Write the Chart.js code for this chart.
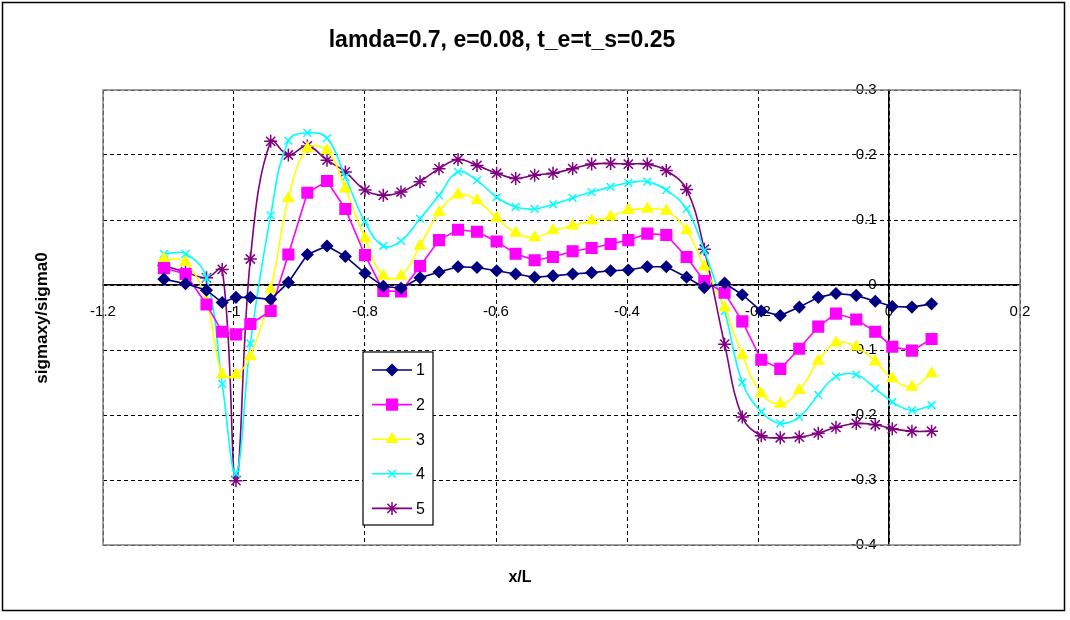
<!DOCTYPE html>
<html lang="en">
<head>
<meta charset="UTF-8">
<title>lamda=0.7, e=0.08, t_e=t_s=0.25</title>
<script src="https://cdn.jsdelivr.net/npm/chart.js"></script>
<style>
  body { margin: 0; background: #ffffff; }
  #wrap { width: 1070px; height: 620px; }
</style>
</head>
<body>
<div id="wrap"><canvas id="sigmaChart" width="1070" height="620"></canvas></div>
<script>
// x/L of the computed points (shared by all series)
const xPos = [-1.107, -1.074, -1.042, -1.018, -0.997, -0.975, -0.944, -0.917, -0.888, -0.858, -0.830, -0.800,
  -0.772, -0.745, -0.716, -0.687, -0.658, -0.629, -0.599, -0.570, -0.541, -0.513, -0.483, -0.454, -0.425,
  -0.398, -0.369, -0.340, -0.309, -0.282, -0.251, -0.224, -0.195, -0.166, -0.137, -0.108, -0.081, -0.050,
  -0.021, 0.005, 0.035, 0.065];

// sigmaxy/sigma0 for each curve
const series1 = [0.009, 0.002, -0.008, -0.027, -0.019, -0.019, -0.022, 0.004, 0.047, 0.060, 0.044, 0.018,
  -0.002, -0.005, 0.011, 0.020, 0.028, 0.027, 0.022, 0.017, 0.012, 0.014, 0.017, 0.019, 0.022, 0.023, 0.028,
  0.028, 0.012, -0.004, 0.003, -0.015, -0.040, -0.047, -0.034, -0.019, -0.013, -0.016, -0.025, -0.033, -0.034, -0.029];
const series2 = [0.026, 0.017, -0.030, -0.072, -0.076, -0.060, -0.040, 0.047, 0.142, 0.160, 0.117, 0.046,
  -0.009, -0.010, 0.029, 0.069, 0.085, 0.082, 0.067, 0.048, 0.038, 0.043, 0.052, 0.057, 0.063, 0.069, 0.079,
  0.077, 0.043, 0.006, -0.012, -0.056, -0.115, -0.129, -0.098, -0.064, -0.044, -0.053, -0.072, -0.095, -0.101, -0.083];
const series3 = [0.040, 0.035, -0.025, -0.138, -0.138, -0.110, -0.007, 0.133, 0.210, 0.207, 0.148, 0.071,
  0.014, 0.014, 0.060, 0.112, 0.139, 0.130, 0.103, 0.080, 0.073, 0.084, 0.091, 0.099, 0.105, 0.115, 0.117,
  0.114, 0.084, 0.028, -0.035, -0.108, -0.167, -0.183, -0.162, -0.117, -0.089, -0.095, -0.118, -0.144, -0.157, -0.136];
const series4 = [0.048, 0.048, 0.011, -0.152, -0.290, -0.090, 0.107, 0.222, 0.234, 0.226, 0.166, 0.097,
  0.060, 0.068, 0.102, 0.138, 0.174, 0.161, 0.135, 0.120, 0.117, 0.124, 0.134, 0.143, 0.151, 0.157, 0.159,
  0.146, 0.117, 0.053, -0.040, -0.150, -0.195, -0.213, -0.203, -0.169, -0.141, -0.138, -0.159, -0.180, -0.193, -0.185];
const series5 = [0.030, 0.020, 0.011, 0.024, -0.301, 0.040, 0.221, 0.200, 0.214, 0.192, 0.174, 0.146,
  0.138, 0.143, 0.159, 0.179, 0.193, 0.184, 0.172, 0.164, 0.169, 0.172, 0.179, 0.186, 0.187, 0.186, 0.186,
  0.176, 0.147, 0.055, -0.091, -0.203, -0.232, -0.235, -0.234, -0.228, -0.219, -0.213, -0.215, -0.221, -0.225, -0.225];

const seriesNames = ['1', '2', '3', '4', '5'];
const chartTitle = 'lamda=0.7, e=0.08, t_e=t_s=0.25';
const xTitle = 'x/L';
const yTitle = 'sigmaxy/sigma0';

const FONT = "'Liberation Sans', Arial, sans-serif";

function toPoints(vals) {
    return xPos.map((x, i) => ({ x: x, y: vals[i] }));
}

// Excel style numbers: 0, -1, 0.2 (no trailing zeros)
function tickText(v) {
    return String(Number(v.toFixed(2)));
}

function makeSet(label, vals, color, style, radius, tension) {
    return {
        label: label,
        data: toPoints(vals),
        borderColor: color,
        backgroundColor: color,
        pointBackgroundColor: color,
        pointBorderColor: color,
        pointStyle: style,
        pointRadius: radius,
        pointBorderWidth: 1.5,
        borderWidth: 1.6,
        tension: tension,
        fill: false
    };
}

// frame, plot border, titles and the boxed legend in the Excel style
const excelLook = {
    id: 'excelLook',
    beforeDraw(chart) {
        const ctx = chart.ctx;
        ctx.save();
        ctx.fillStyle = '#ffffff';
        ctx.fillRect(0, 0, chart.width, chart.height);
        ctx.strokeStyle = '#000000';
        ctx.lineWidth = 1.5;
        ctx.strokeRect(2.5, 2.5, 1062, 608);
        ctx.restore();
    },
    beforeDatasetsDraw(chart) {
        const a = chart.chartArea;
        const ctx = chart.ctx;
        ctx.save();
        ctx.strokeStyle = '#808080';
        ctx.lineWidth = 1.5;
        ctx.strokeRect(a.left, a.top, a.right - a.left, a.bottom - a.top);
        ctx.restore();
    },
    afterDraw(chart) {
        const ctx = chart.ctx;
        ctx.save();
        ctx.fillStyle = '#000000';
        ctx.textAlign = 'center';
        ctx.textBaseline = 'middle';
        ctx.font = 'bold 23px ' + FONT;
        ctx.fillText(chartTitle, 502, 41);
        ctx.font = 'bold 16px ' + FONT;
        ctx.fillText(xTitle, 520, 578);
        ctx.translate(42, 318);
        ctx.rotate(-Math.PI / 2);
        ctx.font = 'bold 17px ' + FONT;
        ctx.fillText(yTitle, 0, 0);
        ctx.restore();

        // legend box
        ctx.save();
        ctx.fillStyle = '#ffffff';
        ctx.fillRect(363, 352, 70, 173);
        ctx.strokeStyle = '#000000';
        ctx.lineWidth = 1.2;
        ctx.strokeRect(363, 352, 70, 173);
        chart.data.datasets.forEach((ds, i) => {
            const y = 370 + i * 34.6;
            ctx.strokeStyle = ds.borderColor;
            ctx.lineWidth = ds.borderWidth;
            ctx.beginPath();
            ctx.moveTo(372, y);
            ctx.lineTo(412, y);
            ctx.stroke();
            ctx.fillStyle = ds.pointBackgroundColor;
            ctx.strokeStyle = ds.pointBorderColor;
            ctx.lineWidth = ds.pointBorderWidth;
            Chart.helpers.drawPoint(ctx, {
                pointStyle: ds.pointStyle, radius: ds.pointRadius, rotation: 0, borderWidth: ds.pointBorderWidth
            }, 392, y);
            ctx.fillStyle = '#000000';
            ctx.font = '16px ' + FONT;
            ctx.textAlign = 'left';
            ctx.textBaseline = 'middle';
            ctx.fillText(ds.label, 416, y + 1);
        });
        ctx.restore();
    }
};

const ctx = document.getElementById('sigmaChart').getContext('2d');
const sigmaChart = new Chart(ctx, {
    type: 'line',
    data: {
        datasets: [
            makeSet(seriesNames[0], series1, '#000080', 'rectRot', 5.5, 0),
            makeSet(seriesNames[1], series2, '#ff00ff', 'rect', 7.5, 0),
            makeSet(seriesNames[2], series3, '#ffff00', 'triangle', 6, 0.4),
            makeSet(seriesNames[3], series4, '#00ffff', 'crossRot', 5.5, 0.4),
            makeSet(seriesNames[4], series5, '#800080', 'star', 6.5, 0.4)
        ]
    },
    options: {
        responsive: false,
        animation: false,
        devicePixelRatio: 1,
        layout: { padding: { left: 103, top: 90, right: 50, bottom: 75 } },
        plugins: {
            legend: { display: false },
            title: { display: false },
            tooltip: { enabled: false }
        },
        scales: {
            x: {
                type: 'linear',
                min: -1.2,
                max: 0.2,
                position: { y: 0 },
                ticks: {
                    stepSize: 0.2, color: '#000000', padding: 18, maxRotation: 0, autoSkip: false,
                    font: { family: FONT, size: 15 },
                    callback: (v) => tickText(v)
                },
                grid: { color: '#000000', lineWidth: 1, drawTicks: false },
                border: { display: true, color: '#000000', width: 1.5, dash: [4, 3] }
            },
            y: {
                type: 'linear',
                min: -0.4,
                max: 0.3,
                position: { x: 0 },
                ticks: {
                    stepSize: 0.1, color: '#000000',
                    font: { family: FONT, size: 15 },
                    // labels sit right-aligned on the axis line; trailing spaces give the gap
                    callback: (v) => tickText(v) + '   '
                },
                grid: { color: '#000000', lineWidth: 1, drawTicks: false },
                border: { display: true, color: '#000000', width: 1.5, dash: [4, 3] }
            }
        }
    },
    plugins: [excelLook]
});
</script>
</body>
</html>
